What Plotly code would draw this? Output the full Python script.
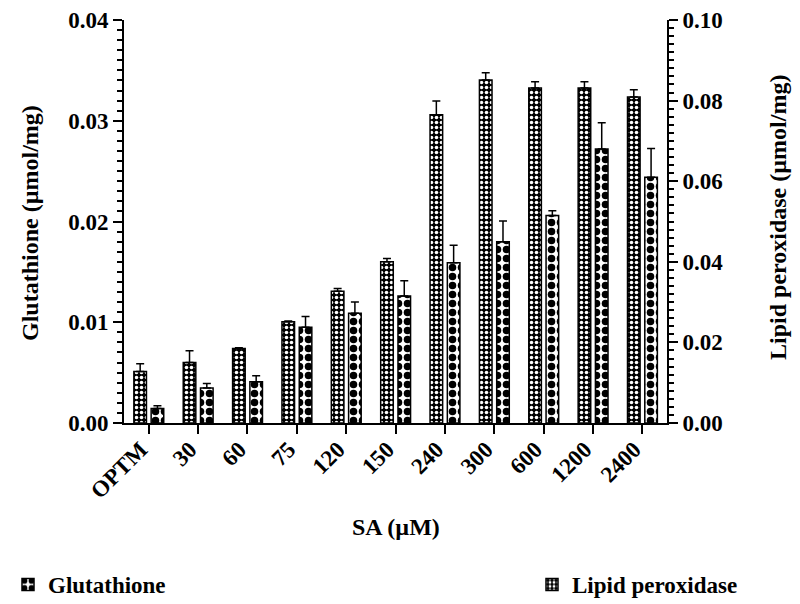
import plotly.graph_objects as go

categories = ["OPTM", "30", "60", "75", "120", "150", "240", "300", "600", "1200", "2400"]

# Checkerboard bars (left axis)
glutathione = [0.00145, 0.00347, 0.00409, 0.0095, 0.0109, 0.0126, 0.0159, 0.0180, 0.0206, 0.0272, 0.0244]
glutathione_err = [0.00026, 0.00046, 0.0006, 0.00106, 0.00112, 0.00152, 0.00175, 0.00205, 0.00046, 0.0026, 0.00284]

# Fine-dotted bars (right axis)
lipid = [0.0128, 0.0150, 0.0185, 0.0251, 0.0327, 0.0400, 0.0765, 0.0851, 0.0831, 0.0831, 0.0809]
lipid_err = [0.0019, 0.0029, 0.0002, 0.0002, 0.0007, 0.0008, 0.0034, 0.0018, 0.0016, 0.0016, 0.0018]

left_ticks = [0.0, 0.01, 0.02, 0.03, 0.04]
right_ticks = [0.0, 0.02, 0.04, 0.06, 0.08, 0.10]

FONT = "Liberation Serif"

fig = go.Figure()

fig.add_trace(go.Bar(
    x=categories, y=glutathione, name="Glutathione", yaxis="y",
    width=0.255, offset=0.05,
    marker=dict(color="white", opacity=1, line=dict(color="black", width=1.5),
                pattern=dict(shape=".", size=9, solidity=0.55, fgcolor="black", bgcolor="white",
                             fgopacity=1, fillmode="replace")),
    error_y=dict(type="data", symmetric=False, array=glutathione_err, arrayminus=[0] * len(glutathione),
                 color="black", thickness=1.5, width=4),
    legend="legend",
))

fig.add_trace(go.Bar(
    x=categories, y=lipid, name="Lipid peroxidase", yaxis="y2",
    width=0.255, offset=-0.30,
    marker=dict(color="black", opacity=1, line=dict(color="black", width=1.5),
                pattern=dict(shape=".", size=5, solidity=0.4, fgcolor="white", bgcolor="black",
                             fgopacity=1, fillmode="replace")),
    error_y=dict(type="data", symmetric=False, array=lipid_err, arrayminus=[0] * len(lipid),
                 color="black", thickness=1.5, width=4),
    legend="legend2",
))

tickfont = dict(family=FONT, size=23, color="black", weight="bold")
xtickfont = dict(family=FONT, size=23, color="black", weight="bold")
titlefont = dict(family=FONT, size=24, color="black", weight="bold")
legfont = dict(family=FONT, size=23, color="black", weight="bold")

L, R, T, B = 116, 141, 12, 189
pw = 800 - L - R
ph = 604 - T - B

fig.update_layout(
    width=800, height=604,
    margin=dict(l=L, r=R, t=T, b=B, autoexpand=False),
    paper_bgcolor="white", plot_bgcolor="white",
    barmode="overlay",
    font=dict(family=FONT, color="black"),
    xaxis=dict(
        type="category", tickmode="array", tickvals=categories, automargin=False,
        showline=True, linecolor="black", linewidth=2,
        ticks="outside", ticklen=9, tickwidth=1.5, tickcolor="black",
        tickangle=-45, tickfont=xtickfont, showgrid=False, zeroline=False,
        ticklabelshift=-8, ticklabelstandoff=-7,
    ),
    yaxis=dict(
        range=[0, 0.04], tickmode="array", tickvals=left_ticks, tickformat=".2f", automargin=False,
        ticklabeloverflow="allow",
        showline=True, linecolor="black", linewidth=2,
        ticks="outside", ticklen=9, tickwidth=1.5, tickcolor="black",
        minor=dict(dtick=0.001, ticks="outside", ticklen=5, tickwidth=1.5, tickcolor="black", showgrid=False),
        tickfont=tickfont, showgrid=False, zeroline=False,
    ),
    yaxis2=dict(
        range=[0, 0.10], tickmode="array", tickvals=right_ticks, tickformat=".2f", automargin=False,
        ticklabeloverflow="allow",
        overlaying="y", side="right",
        showline=True, linecolor="black", linewidth=2,
        ticks="outside", ticklen=9, tickwidth=1.5, tickcolor="black",
        minor=dict(dtick=0.002, ticks="outside", ticklen=5, tickwidth=1.5, tickcolor="black", showgrid=False),
        tickfont=tickfont, showgrid=False, zeroline=False,
    ),
    annotations=[
        dict(text="Glutathione (µmol/mg)", textangle=-90, font=titlefont, showarrow=False,
             xref="paper", yref="paper", x=(22 - L) / pw, y=(415 - 215) / ph,
             xanchor="center", yanchor="middle"),
        dict(text="Lipid peroxidase (µmol/mg)", textangle=-90, font=titlefont, showarrow=False,
             xref="paper", yref="paper", x=(770 - L) / pw, y=(415 - 210) / ph,
             xanchor="center", yanchor="middle"),
        dict(text="SA (µM)", font=titlefont, showarrow=False,
             xref="paper", yref="paper", x=0.5, y=(415 - 519) / ph,
             xanchor="center", yanchor="middle"),
    ],
    legend=dict(
        xref="container", yref="container", x=0.0, y=0.01, xanchor="left", yanchor="bottom",
        font=legfont, bgcolor="rgba(0,0,0,0)",
    ),
    legend2=dict(
        xref="container", yref="container", x=0.655, y=0.01, xanchor="left", yanchor="bottom",
        font=legfont, bgcolor="rgba(0,0,0,0)",
    ),
    showlegend=True,
)

fig.write_html("out.html")
